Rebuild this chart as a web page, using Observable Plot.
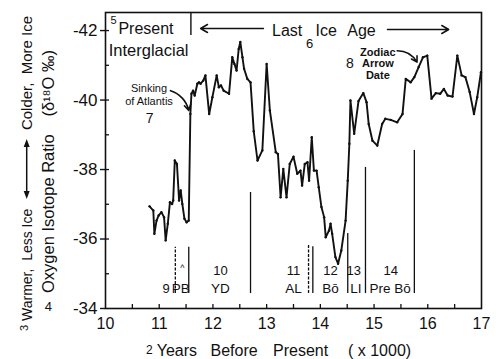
<!DOCTYPE html>
<html><head><meta charset="utf-8">
<script src="https://cdn.jsdelivr.net/npm/d3@7"></script>
<script src="https://cdn.jsdelivr.net/npm/@observablehq/plot@0.6"></script>
<style>
body{margin:0;background:#fff}
#chart svg{display:block}
</style>
</head><body><div id="chart"></div>
<script>
// ---- data ----
const years = [10.82,10.89,10.91,10.95,10.99,11.04,11.09,11.12,11.16,11.20,11.24,11.26,11.29,11.33,11.37,11.40,11.43,11.47,11.51,11.55,
  11.58,11.60,11.63,11.66,11.71,11.74,11.77,11.82,11.86,11.93,11.99,12.07,12.11,12.15,12.20,12.30,12.36,12.40,12.44,12.48,12.51,12.55,12.58,12.64,12.70,
  12.76,12.83,12.92,13.00,13.06,13.17,13.21,13.26,13.31,13.37,13.43,13.50,13.57,13.63,13.66,13.71,13.76,13.79,13.84,13.88,13.93,13.97,
  14.02,14.07,14.10,14.16,14.19,14.22,14.28,14.33,14.39,14.47,14.51,14.54,14.56,14.63,14.71,14.80,14.86,14.90,14.97,15.06,15.15,15.21,15.31,15.43,15.53,
  15.59,15.68,15.75,15.83,15.91,15.99,16.07,16.15,16.23,16.30,16.37,16.46,16.55,16.63,16.70,16.78,16.86,16.92,16.99];
const o18 = [-36.94,-36.82,-36.15,-36.53,-36.68,-36.77,-36.63,-35.96,-36.44,-37.06,-37.01,-37.11,-38.26,-38.16,-37.11,-37.40,-37.01,-36.58,-36.48,-36.53,
  -39.60,-40.18,-40.27,-40.13,-40.47,-40.51,-40.47,-40.56,-40.71,-39.60,-40.08,-40.71,-40.37,-40.42,-40.27,-40.18,-41.23,-41.04,-40.85,-41.47,-41.67,-41.23,-40.90,-40.61,-40.51,
  -39.10,-38.26,-38.55,-41.04,-39.70,-38.50,-38.45,-37.20,-38.02,-37.20,-38.16,-38.37,-37.88,-37.97,-37.54,-38.16,-38.21,-37.68,-38.93,-37.97,-37.97,-37.49,
  -36.92,-36.63,-36.05,-36.24,-36.44,-36.15,-35.48,-35.29,-35.67,-36.53,-37.68,-38.74,-39.99,-39.03,-39.97,-40.20,-39.94,-39.31,-38.83,-38.69,-39.31,-39.46,-39.43,-39.36,-39.60,
  -40.61,-40.51,-40.66,-40.95,-41.23,-41.28,-40.04,-40.20,-40.18,-40.32,-40.13,-40.10,-41.28,-40.71,-40.66,-40.23,-39.60,-40.08,-40.80];

const boundaryYears = [11.30, 11.55, 12.70, 13.78, 13.86, 14.51, 14.84, 15.75];
const boundaryTop = [-35.76, -35.76, -37.34, -35.81, -35.78, -36.16, -38.06, -38.55];
const boundaryDashed = [true, false, false, true, false, false, false, false];
const boundaryBottom = -34.43;

const periodNames = ["PB", "YD", "AL", "Bō", "LI", "Pre Bō"];
const periodYears = [11.40, 12.14, 13.50, 14.19, 14.66, 15.30];
const periodNums = ["9", "10", "11", "12", "13", "14"];
const periodNumYears = [11.13, 12.14, 13.50, 14.19, 14.62, 15.31];
const periodNumOnNameRow = [true, false, false, false, false, false];

const xTicks = [10, 11, 12, 13, 14, 15, 16, 17];
const xMinor = [10.5, 11, 11.5, 12, 12.5, 13, 13.5, 14, 14.5, 15, 15.5, 16, 16.5];
const yTicks = [-42, -40, -38, -36, -34];
const yMinor = [-42, -41, -40, -39, -38, -37, -36, -35];

// ---- chart ----
const series = years.map((x, i) => ({x, y: o18[i]}));
const bounds = boundaryYears.map((x, i) => ({x, top: boundaryTop[i], dashed: boundaryDashed[i]}));
const names = periodNames.map((t, i) => ({t, x: periodYears[i]}));
const nums = periodNums.map((t, i) => ({t, x: periodNumYears[i], low: periodNumOnNameRow[i]}));
const ink = "#111";

const chart = Plot.plot({
  width: 500, height: 359,
  marginLeft: 105, marginRight: 19, marginTop: 12, marginBottom: 51,
  x: {domain: [10, 17]},
  y: {domain: [-34, -42.52]},
  style: {fontFamily: "'Liberation Sans', Arial, Helvetica, sans-serif", color: ink, background: "#fff"},
  marks: [
    Plot.frame({stroke: ink, strokeWidth: 1.6}),
    Plot.axisX({ticks: xTicks, tickSize: 0, tickPadding: 9, fontSize: 16, tickFormat: d => String(d), label: null}),
    Plot.axisX({ticks: xMinor, tickSize: -4, tickFormat: () => "", label: null, strokeWidth: 1.3}),
    Plot.axisY({ticks: yTicks, tickSize: 5, tickPadding: 3, fontSize: 17, tickFormat: d => "-" + Math.abs(d), label: null, strokeWidth: 1.4}),
    Plot.axisY({ticks: yMinor, tickSize: -4, tickFormat: () => "", label: null, strokeWidth: 1.3}),
    // period boundary rules
    Plot.ruleX(bounds.filter(d => !d.dashed), {x: "x", y1: boundaryBottom, y2: "top", stroke: ink, strokeWidth: 1.3}),
    Plot.ruleX(bounds.filter(d => d.dashed), {x: "x", y1: boundaryBottom, y2: "top", stroke: ink, strokeWidth: 1.3, strokeDasharray: "3,1.5"}),
    // isotope record
    Plot.line(series, {x: "x", y: "y", stroke: ink, strokeWidth: 1.9, strokeLinejoin: "round"}),
    Plot.dot(series, {x: "x", y: "y", r: 1.2, fill: ink}),
    // period labels
    Plot.text(names, {x: "x", y: () => -34.58, text: "t", fontSize: 13.5}),
    Plot.text(nums, {x: "x", y: d => d.low ? -34.58 : -35.09, text: "t", fontSize: 13}),
    Plot.text(["^"], {x: () => 11.43, y: () => -35.15, text: d => d, fontSize: 9}),
    // top annotations
    Plot.text(["5"], {x: () => 10.15, y: () => -42.29, text: d => d, fontSize: 11}),
    Plot.text(["Present"], {x: () => 10.24, y: () => -42.06, text: d => d, fontSize: 16, textAnchor: "start"}),
    Plot.text(["Interglacial"], {x: () => 10.06, y: () => -41.42, text: d => d, fontSize: 16.5, textAnchor: "start"}),
    Plot.ruleX([11.59], {x: d => d, y1: () => -42.52, y2: () => -41.86, stroke: ink, strokeWidth: 1.4}),
    Plot.arrow([{x1: 12.94, y1: -42.06, x2: 11.77, y2: -42.06}], {x1: "x1", y1: "y1", x2: "x2", y2: "y2", stroke: ink, strokeWidth: 1.5, headLength: 8}),
    Plot.text(["Last", "Ice", "Age"], {x: (d, i) => [13.10, 13.91, 14.50][i], y: () => -42.0, text: d => d, fontSize: 16, textAnchor: "start"}),
    Plot.arrow([{x1: 15.25, y1: -42.03, x2: 16.39, y2: -42.03}], {x1: "x1", y1: "y1", x2: "x2", y2: "y2", stroke: ink, strokeWidth: 1.5, headLength: 8}),
    Plot.text(["6"], {x: () => 13.80, y: () => -41.62, text: d => d, fontSize: 13}),
    Plot.text(["8"], {x: () => 14.55, y: () => -41.04, text: d => d, fontSize: 14}),
    Plot.text(["Zodiac", "Arrow", "Date"], {x: () => 15.07, y: (d, i) => [-41.38, -41.05, -40.71][i], text: d => d, fontSize: 11, fontWeight: "bold"}),
    Plot.arrow([{x1: 15.43, y1: -41.42, x2: 15.80, y2: -41.09}], {x1: "x1", y1: "y1", x2: "x2", y2: "y2", stroke: ink, strokeWidth: 1.6, headLength: 6, bend: 30}),
    Plot.text(["Sinking", "of Atlantis"], {x: () => 10.81, y: (d, i) => [-40.32, -39.96][i], text: d => d, fontSize: 11}),
    Plot.text(["7"], {x: () => 10.82, y: () => -39.46, text: d => d, fontSize: 14}),
    Plot.arrow([{x1: 11.21, y1: -40.27, x2: 11.55, y2: -39.70}], {x1: "x1", y1: "y1", x2: "x2", y2: "y2", stroke: ink, strokeWidth: 1.6, headLength: 6, bend: 30})
  ]
});
document.getElementById("chart").appendChild(chart);

// ---- margin titles ----
const svg = d3.select(chart);
const font = "'Liberation Sans', Arial, Helvetica, sans-serif";
function rot(x, y, txt, size, anchor) {
  svg.append("text").attr("transform", `translate(${x},${y}) rotate(-90)`)
    .attr("dy", "0.36em").attr("text-anchor", anchor).attr("font-family", font)
    .attr("font-size", size).attr("fill", ink).text(txt);
}
rot(48, 293, "Oxygen Isotope Ratio", 16.5, "start");
rot(48, 50, "(δ¹⁸O ‰)", 16.5, "end");
rot(26.7, 73, "Colder,  More Ice", 15, "middle");
rot(26.7, 321, "Warmer,  Less Ice", 14, "start");
rot(24, 328, "3", 11, "middle");
svg.append("text").attr("x", 48.3).attr("y", 306.7).attr("dy", "0.36em").attr("text-anchor", "middle")
  .attr("font-family", font).attr("font-size", 13).attr("fill", ink).text("4");
// double arrow
svg.append("line").attr("x1", 26.7).attr("x2", 26.7).attr("y1", 143).attr("y2", 195).attr("stroke", ink).attr("stroke-width", 1.5);
svg.append("path").attr("d", "M26.7,139 L23.7,147 L29.7,147 Z").attr("fill", ink);
svg.append("path").attr("d", "M26.7,199 L23.7,191 L29.7,191 Z").attr("fill", ink);
// x title
const xt = [["2", 146, 12], ["Years", 156.7, 16], ["Before", 210.5, 16], ["Present", 273, 16], ["( x 1000)", 348, 16]];
xt.forEach(([t, x, s]) => svg.append("text").attr("x", x).attr("y", 350).attr("dy", "0.36em")
  .attr("text-anchor", "start").attr("font-family", font).attr("font-size", s).attr("fill", ink).text(t));
</script>
</body></html>
